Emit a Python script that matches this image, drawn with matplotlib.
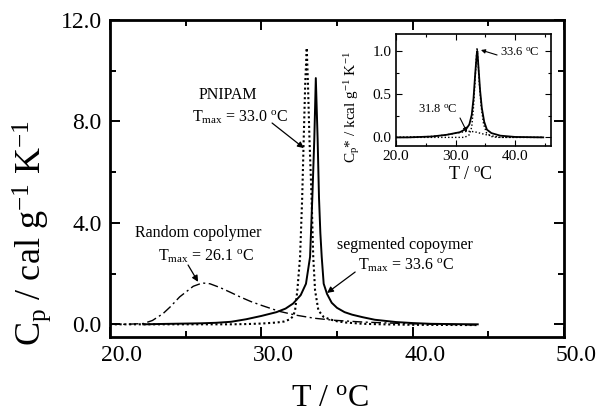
import matplotlib
matplotlib.use("Agg")
import matplotlib.pyplot as plt
import matplotlib.transforms as mtransforms
from matplotlib.ticker import MultipleLocator, FormatStrFormatter

plt.rcParams['font.family'] = ['Liberation Serif', 'DejaVu Serif']
plt.rcParams['mathtext.fontset'] = 'custom'
plt.rcParams['mathtext.rm'] = 'Liberation Serif'
plt.rcParams['mathtext.it'] = 'Liberation Serif:italic'
plt.rcParams['mathtext.bf'] = 'Liberation Serif:bold'

# ---------------- main data ----------------
seg_T = [22.2, 23.0, 24.0, 25.0, 26.0, 27.0, 28.0, 29.0, 30.0, 31.0, 31.6, 32.1, 32.6,
         32.95, 33.22, 33.37, 33.5, 33.6, 33.72, 33.81, 33.9, 33.99, 34.12, 34.34, 34.65,
         35.0, 35.5, 36.0, 36.7, 37.5, 38.9, 40.0, 41.2, 42.5, 44.3]
seg_Cp = [0.0, 0.01, 0.02, 0.03, 0.04, 0.06, 0.10, 0.20, 0.33, 0.48, 0.62, 0.82, 1.15,
          1.6, 2.66, 5.0, 7.3, 9.71, 7.3, 5.0, 3.6, 2.66, 1.6, 1.2, 0.85,
          0.65, 0.48, 0.38, 0.28, 0.18, 0.09, 0.05, 0.02, 0.01, 0.0]

pn_T = [20.0, 28.0, 29.0, 30.0, 31.0, 31.5, 31.9, 32.1, 32.23, 32.38, 32.56, 32.7, 32.8,
        32.9, 33.0, 33.08, 33.18, 33.32, 33.43, 33.55, 33.77, 34.1, 34.5, 35.0, 35.6,
        36.7, 38.0, 40.0, 44.3]
pn_Cp = [0.0, 0.0, 0.01, 0.03, 0.07, 0.11, 0.2, 0.32, 0.55, 1.34, 2.66, 5.0, 7.3,
         9.5, 10.9, 9.5, 7.3, 5.0, 2.66, 1.34, 0.55, 0.3, 0.2, 0.12, 0.07,
         0.02, 0.0, -0.02, -0.03]

rnd_T = [20.0, 21.0, 22.2, 22.8, 23.5, 24.0, 24.6, 25.5, 26.1, 26.6, 27.27, 28.0, 28.6,
         29.3, 30.0, 31.2, 32.3, 33.5, 34.8, 36.7, 38.5, 40.0, 42.0, 44.3]
rnd_Cp = [0.0, 0.0, 0.03, 0.15, 0.42, 0.7, 1.08, 1.50, 1.63, 1.6, 1.45, 1.25, 1.08,
          0.9, 0.75, 0.51, 0.36, 0.24, 0.16, 0.09, 0.05, 0.02, 0.0, -0.03]

# ---------------- inset data ----------------
in_T = [20.0, 22.0, 24.0, 26.0, 28.5, 30.7, 31.8, 32.3, 32.7, 33.0, 33.3, 33.55, 33.65,
        33.8, 34.1, 34.4, 34.8, 35.25, 36.0, 37.5, 40.0, 44.7]
in_Cp = [0.0, 0.0, 0.005, 0.01, 0.03, 0.06, 0.10, 0.15, 0.26, 0.45, 0.75, 0.97, 1.0,
         0.85, 0.55, 0.34, 0.18, 0.09, 0.05, 0.02, 0.005, 0.0]

nar_T = [20.0, 31.5, 32.3, 32.7, 33.0, 33.3, 33.5, 33.6, 33.75, 34.0, 34.3, 34.7, 35.2,
         36.0, 37.0, 44.7]
nar_Cp = [0.0, 0.0, 0.03, 0.12, 0.35, 0.7, 0.95, 1.04, 0.9, 0.6, 0.35, 0.15, 0.05,
          0.01, 0.0, 0.0]

brd_T = [20.0, 23.0, 25.7, 28.0, 30.2, 31.0, 31.8, 32.6, 33.5, 34.3, 35.2, 36.3, 37.5, 44.7]
brd_Cp = [0.0, 0.005, 0.01, 0.025, 0.05, 0.06, 0.07, 0.07, 0.06, 0.045, 0.03, 0.015, 0.0, 0.0]

main_xticks = [20.0, 30.0, 40.0, 50.0]
main_yticks = [0.0, 4.0, 8.0, 12.0]
inset_xticks = [20.0, 30.0, 40.0]
inset_yticks = [0.0, 0.5, 1.0]

fig = plt.figure(figsize=(6.03, 4.16), dpi=100)
ax = fig.add_axes([110/603, 1-337/416, (564-110)/603, (337-20)/416])

ax.plot(seg_T, seg_Cp, color='black', lw=1.4, ls='-')
ax.plot(pn_T, pn_Cp, color='black', lw=1.5, ls=(0, (1, 1.3)))
ax.plot(rnd_T, rnd_Cp, color='black', lw=1.0, ls=(0, (7, 2.5, 1.5, 2.5)))

ax.set_xlim(20, 50)
ax.set_ylim(-0.5, 12)
ax.set_xticks(main_xticks)
ax.set_yticks(main_yticks)
ax.xaxis.set_minor_locator(MultipleLocator(5))
ax.yaxis.set_minor_locator(MultipleLocator(2))
ax.xaxis.set_major_formatter(FormatStrFormatter('%.1f'))
ax.yaxis.set_major_formatter(FormatStrFormatter('%.1f'))
ax.tick_params(which='both', direction='in', top=True, right=True, width=1.4)
ax.tick_params(which='major', length=7, labelsize=17, pad=6)
ax.tick_params(which='minor', length=4)
for sp in ax.spines.values():
    sp.set_linewidth(2.0)

offset = mtransforms.ScaledTranslation(12/100, 0, fig.dpi_scale_trans)
for lab in ax.get_xticklabels():
    lab.set_transform(lab.get_transform() + offset)

fig.text(330/603, 1-406/416, r'T / $^{\mathrm{o}}$C', ha='center', va='baseline', fontsize=23)
fig.text(32/603, 1-233/416, r'C$_{\mathrm{p}}$ / cal g$^{\mathrm{-1}}$ K$^{\mathrm{-1}}$',
         ha='center', va='center', rotation=90, fontsize=26)

fs = 11.5
ap = dict(arrowstyle='-|>', color='black', lw=0.9, mutation_scale=9, shrinkA=0, shrinkB=0)
ax.text(0.26, 0.763, 'PNIPAM', transform=ax.transAxes, ha='center', va='center', fontsize=fs)
ax.text(0.181, 0.694, r'T$_{\mathrm{max}}$ = 33.0 $^{\mathrm{o}}$C', transform=ax.transAxes,
        ha='left', va='center', fontsize=fs)
ax.annotate('', xy=(0.427, 0.596), xytext=(0.357, 0.675), xycoords='axes fraction',
            textcoords='axes fraction', arrowprops=ap)

ax.text(0.194, 0.328, 'Random copolymer', transform=ax.transAxes, ha='center', va='center', fontsize=fs)
ax.text(0.106, 0.256, r'T$_{\mathrm{max}}$ = 26.1 $^{\mathrm{o}}$C', transform=ax.transAxes,
        ha='left', va='center', fontsize=fs)
ax.annotate('', xy=(0.194, 0.174), xytext=(0.172, 0.227), xycoords='axes fraction',
            textcoords='axes fraction', arrowprops=ap)

ax.text(0.50, 0.290, 'segmented copoymer', transform=ax.transAxes, ha='left', va='center', fontsize=fs)
ax.text(0.546, 0.227, r'T$_{\mathrm{max}}$ = 33.6 $^{\mathrm{o}}$C', transform=ax.transAxes,
        ha='left', va='center', fontsize=fs)
ax.annotate('', xy=(0.478, 0.139), xytext=(0.540, 0.205), xycoords='axes fraction',
            textcoords='axes fraction', arrowprops=ap)

# ---------------- inset ----------------
ins = fig.add_axes([396/603, 1-146/416, (551-396)/603, (146-34)/416])
ins.plot(in_T, in_Cp, color='black', lw=1.3, ls='-')
ins.plot(nar_T, nar_Cp, color='black', lw=1.0, ls=(0, (1, 1.5)))
ins.plot(brd_T, brd_Cp, color='black', lw=1.0, ls=(0, (1, 1.5)))
ins.set_xlim(20, 46)
ins.set_ylim(-0.1, 1.2)
ins.set_xticks(inset_xticks)
ins.set_yticks(inset_yticks)
ins.xaxis.set_minor_locator(MultipleLocator(5))
ins.yaxis.set_minor_locator(MultipleLocator(0.25))
ins.xaxis.set_major_formatter(FormatStrFormatter('%.1f'))
ins.yaxis.set_major_formatter(FormatStrFormatter('%.1f'))
ins.tick_params(which='both', direction='in', top=True, right=True, width=0.8)
ins.tick_params(which='major', length=4, labelsize=11, pad=3)
ins.tick_params(which='minor', length=2)
for sp in ins.spines.values():
    sp.set_linewidth(1.2)

fig.text(470/603, 1-175/416, r'T / $^{\mathrm{o}}$C', ha='center', va='center', fontsize=13)
fig.text(352/603, 1-107/416, r'C$_{\mathrm{p}}$* / kcal g$^{\mathrm{-1}}$ K$^{\mathrm{-1}}$',
         ha='center', va='center', rotation=90, fontsize=11)

ap2 = dict(arrowstyle='-|>', color='black', lw=0.8, mutation_scale=6, shrinkA=0, shrinkB=0)
ins.text(0.671, 0.83, r'33.6 $^{\mathrm{o}}$C', transform=ins.transAxes, ha='left', va='center', fontsize=9)
ins.annotate('', xy=(0.548, 0.857), xytext=(0.652, 0.8125), xycoords='axes fraction',
             textcoords='axes fraction', arrowprops=ap2)
ins.text(0.142, 0.321, r'31.8 $^{\mathrm{o}}$C', transform=ins.transAxes, ha='left', va='center', fontsize=9)
ins.annotate('', xy=(0.458, 0.125), xytext=(0.413, 0.25), xycoords='axes fraction',
             textcoords='axes fraction', arrowprops=ap2)

fig.savefig('out.png', dpi=100)
